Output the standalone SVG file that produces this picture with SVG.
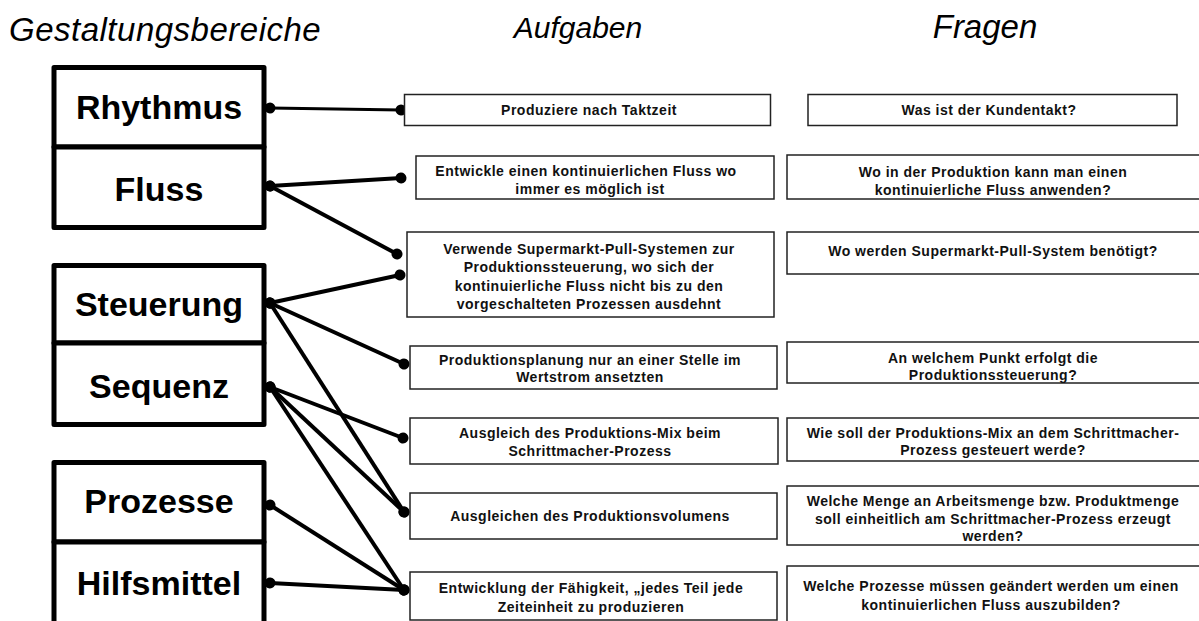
<svg xmlns="http://www.w3.org/2000/svg" width="1199" height="621" viewBox="0 0 1199 621">
<style>
.title{font-family:"Liberation Sans",Arial,sans-serif;font-style:italic;font-size:31px;fill:#000}
.big{fill:#fff;stroke:#000;stroke-width:5;stroke-linejoin:round}
.bigt{font-family:"Liberation Sans",Arial,sans-serif;font-weight:bold;font-size:34px;fill:#000;text-anchor:middle}
.box{fill:#fff;stroke:#222;stroke-width:1.5}
.t{font-family:"Liberation Sans",Arial,sans-serif;font-weight:bold;font-size:14px;letter-spacing:0.5px;fill:#111;text-anchor:middle}
.c{stroke:#000;stroke-width:4;fill:none;marker-start:url(#dot);marker-end:url(#dot)}
</style>
<defs>
<marker id="dot" markerUnits="userSpaceOnUse" markerWidth="14" markerHeight="14" refX="7" refY="7" orient="auto">
<circle cx="7" cy="7" r="5.5" fill="#000"/>
</marker>
</defs>
<rect width="1199" height="621" fill="#fff"/>
<text class="title" x="9" y="41" style="font-size:33px;letter-spacing:0.5px">Gestaltungsbereiche</text>
<text class="title" x="578" y="38" text-anchor="middle" style="font-size:30px">Aufgaben</text>
<text class="title" x="985" y="38" text-anchor="middle" style="font-size:33px">Fragen</text>

<g id="connectors">
<line class="c" x1="270" y1="108" x2="401" y2="110" style="stroke-width:3"/>
<line class="c" x1="270" y1="186" x2="401" y2="178"/>
<line class="c" x1="270" y1="186" x2="397" y2="254"/>
<line class="c" x1="270" y1="303" x2="400" y2="275"/>
<line class="c" x1="270" y1="303" x2="404" y2="364"/>
<line class="c" x1="270" y1="303" x2="404" y2="512"/>
<line class="c" x1="270" y1="387" x2="403" y2="438"/>
<line class="c" x1="270" y1="387" x2="404" y2="512"/>
<line class="c" x1="270" y1="387" x2="404" y2="590"/>
<line class="c" x1="270" y1="505" x2="404" y2="590"/>
<line class="c" x1="270" y1="583" x2="404" y2="590"/>
</g>

<g id="n-rhythmus"><rect class="big" x="54" y="67.5" width="210" height="79.5"/><text class="bigt" x="159" y="119">Rhythmus</text></g>
<g id="n-fluss"><rect class="big" x="54" y="147" width="210" height="80.5"/><text class="bigt" x="159" y="201">Fluss</text></g>
<g id="n-steuerung"><rect class="big" x="54" y="265.5" width="210" height="77.5"/><text class="bigt" x="159" y="316">Steuerung</text></g>
<g id="n-sequenz"><rect class="big" x="54" y="343" width="210" height="81.5"/><text class="bigt" x="159" y="398">Sequenz</text></g>
<g id="n-prozesse"><rect class="big" x="54" y="462.5" width="210" height="79.5"/><text class="bigt" x="159" y="513">Prozesse</text></g>
<g id="n-hilfsmittel"><rect class="big" x="54" y="542" width="210" height="85"/><text class="bigt" x="159" y="595">Hilfsmittel</text></g>

<g id="a1"><rect class="box" x="404.5" y="94.5" width="366" height="31"/><text class="t" x="589" y="115">Produziere nach Taktzeit</text></g>
<g id="a2"><rect class="box" x="416" y="156" width="358" height="43"/><text class="t" x="586" y="176">Entwickle einen kontinuierlichen Fluss wo</text><text class="t" x="590" y="194">immer es möglich ist</text></g>
<g id="a3"><rect class="box" x="407" y="232" width="367" height="85"/><text class="t" x="589" y="254">Verwende Supermarkt-Pull-Systemen zur</text><text class="t" x="589" y="272.3">Produktionssteuerung, wo sich der</text><text class="t" x="589" y="290.6">kontinuierliche Fluss nicht bis zu den</text><text class="t" x="589" y="308.9">vorgeschalteten Prozessen ausdehnt</text></g>
<g id="a4"><rect class="box" x="410" y="346" width="367" height="43"/><text class="t" x="590" y="365">Produktionsplanung nur an einer Stelle im</text><text class="t" x="590" y="382">Wertstrom ansetzten</text></g>
<g id="a5"><rect class="box" x="410" y="418" width="368" height="46"/><text class="t" x="590" y="438">Ausgleich des Produktions-Mix beim</text><text class="t" x="590" y="456">Schrittmacher-Prozess</text></g>
<g id="a6"><rect class="box" x="410" y="493" width="367" height="46"/><text class="t" x="590" y="521">Ausgleichen des Produktionsvolumens</text></g>
<g id="a7"><rect class="box" x="410" y="572" width="367" height="48"/><text class="t" x="591" y="593">Entwicklung der Fähigkeit, „jedes Teil jede</text><text class="t" x="591" y="612">Zeiteinheit zu produzieren</text></g>

<g id="f1"><rect class="box" x="808" y="94.5" width="369" height="31"/><text class="t" x="989" y="115">Was ist der Kundentakt?</text></g>
<g id="f2"><rect class="box" x="787" y="155" width="414" height="44"/><text class="t" x="993" y="177">Wo in der Produktion kann man einen</text><text class="t" x="993" y="195">kontinuierliche Fluss anwenden?</text></g>
<g id="f3"><rect class="box" x="787" y="232" width="414" height="42"/><text class="t" x="993" y="256">Wo werden Supermarkt-Pull-System benötigt?</text></g>
<g id="f4"><rect class="box" x="787" y="342" width="414" height="41"/><text class="t" x="993" y="362.5">An welchem Punkt erfolgt die</text><text class="t" x="993" y="379.5">Produktionssteuerung?</text></g>
<g id="f5"><rect class="box" x="787" y="418" width="414" height="43"/><text class="t" x="993" y="437.5">Wie soll der Produktions-Mix an dem Schrittmacher-</text><text class="t" x="993" y="455">Prozess gesteuert werde?</text></g>
<g id="f6"><rect class="box" x="787" y="486" width="414" height="59"/><text class="t" x="993" y="506">Welche Menge an Arbeitsmenge bzw. Produktmenge</text><text class="t" x="993" y="523.5">soll einheitlich am Schrittmacher-Prozess erzeugt</text><text class="t" x="993" y="541">werden?</text></g>
<g id="f7"><rect class="box" x="787" y="566" width="414" height="60"/><text class="t" x="991" y="591">Welche Prozesse müssen geändert werden um einen</text><text class="t" x="991" y="609.5">kontinuierlichen Fluss auszubilden?</text></g>
</svg>
